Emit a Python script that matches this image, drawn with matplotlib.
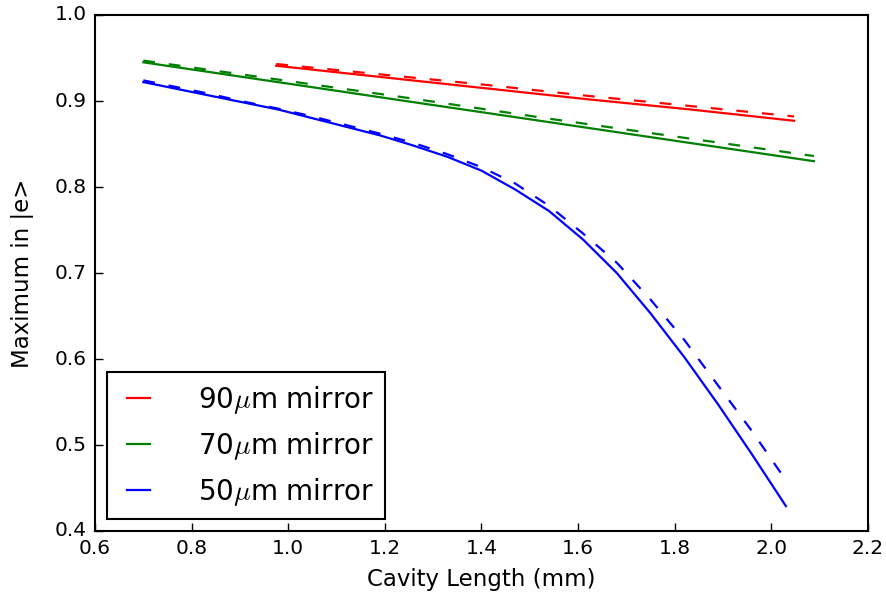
import matplotlib
matplotlib.use("Agg")
import matplotlib.pyplot as plt

plt.style.use("classic")

# Cavity length (mm) sample points
x_90 = [0.975, 1.19, 1.405, 1.62, 1.835, 2.047]
x_70 = [0.70, 0.978, 1.255, 1.533, 1.81, 2.088]
x_50 = [0.70, 0.77, 0.84, 0.91, 0.98, 1.05, 1.12, 1.19, 1.26, 1.33,
        1.40, 1.47, 1.54, 1.61, 1.68, 1.75, 1.82, 1.89, 1.96, 2.03]

# Maximum population in |e>, solid = model A, dashed = model B
y_90_solid = [0.941, 0.928, 0.915, 0.902, 0.890, 0.877]
y_90_dash = [0.943, 0.931, 0.919, 0.906, 0.894, 0.882]
y_70_solid = [0.945, 0.922, 0.899, 0.876, 0.853, 0.830]
y_70_dash = [0.947, 0.925, 0.903, 0.880, 0.858, 0.836]
y_50_solid = [0.922, 0.914, 0.906, 0.898, 0.890, 0.880, 0.870, 0.860, 0.848, 0.835,
              0.819, 0.797, 0.772, 0.739, 0.700, 0.653, 0.602, 0.547, 0.489, 0.429]
y_50_dash = [0.924, 0.916, 0.908, 0.899, 0.891, 0.882, 0.872, 0.862, 0.851, 0.838,
             0.823, 0.804, 0.778, 0.746, 0.712, 0.669, 0.622, 0.569, 0.516, 0.459]

labels = [r"90$\mu$m mirror", r"70$\mu$m mirror", r"50$\mu$m mirror"]
xticks = [0.6, 0.8, 1.0, 1.2, 1.4, 1.6, 1.8, 2.0, 2.2]
yticks = [0.4, 0.5, 0.6, 0.7, 0.8, 0.9, 1.0]

fig = plt.figure(figsize=(8.87, 6.01), dpi=100, facecolor="white")
ax = fig.add_axes([95 / 887, 1 - 531 / 601, (868 - 95) / 887, (531 - 15) / 601])
ax.set_facecolor("white")

lw = 1.6
dash = (8.5, 10.0)
ax.plot(x_90, y_90_solid, "-", color="red", lw=lw, label=labels[0])
ax.plot(x_70, y_70_solid, "-", color="green", lw=lw, label=labels[1])
ax.plot(x_50, y_50_solid, "-", color="blue", lw=lw, label=labels[2])
ax.plot(x_90, y_90_dash, color="red", lw=lw, dashes=dash)
ax.plot(x_70, y_70_dash, color="green", lw=lw, dashes=dash)
ax.plot(x_50, y_50_dash, color="blue", lw=lw, dashes=dash)

ax.set_xlim(0.6, 2.2)
ax.set_ylim(0.4, 1.0)
ax.set_xticks(xticks)
ax.set_yticks(yticks)
ax.tick_params(labelsize=14.5, direction="in", length=6, width=1, pad=6)
ax.xaxis.set_ticks_position("bottom")
ax.yaxis.set_ticks_position("left")
for s in ax.spines.values():
    s.set_linewidth(1.5)

ax.set_xlabel("Cavity Length (mm)", fontsize=16.5, labelpad=7)
ax.set_ylabel("Maximum in |e>", fontsize=16.5, labelpad=15)

leg = ax.legend(loc="lower left", fontsize=20, handlelength=1.45,
                handletextpad=1.4, borderaxespad=0.42, labelspacing=0.5,
                borderpad=0.42, fancybox=False)
leg.get_frame().set_linewidth(1.5)
leg.get_frame().set_edgecolor("black")

fig.savefig("out.png", dpi=100, facecolor="white")
